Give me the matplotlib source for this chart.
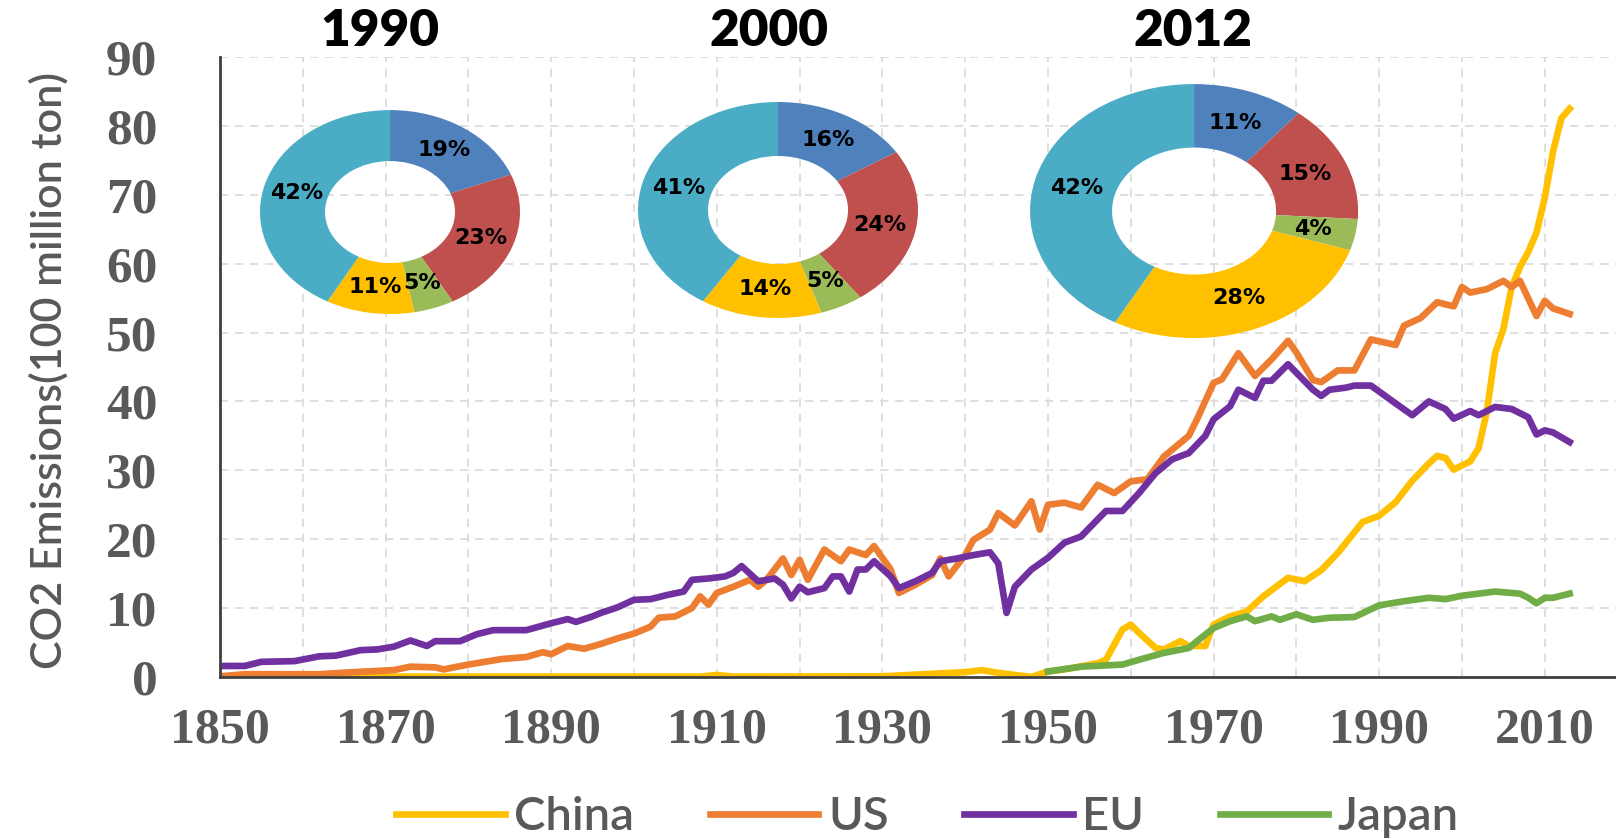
import matplotlib
matplotlib.use("Agg")
import matplotlib.pyplot as plt
import numpy as np

# CO2 emissions, 100 million ton
china_years = [1850, 1880, 1908, 1910, 1912, 1930, 1935, 1940, 1942, 1944, 1946, 1948,
               1950, 1952, 1956, 1957, 1959, 1960, 1961, 1963, 1964, 1966, 1967, 1969,
               1970, 1972, 1974, 1976, 1979, 1981, 1983, 1985, 1988, 1990, 1992, 1994,
               1996, 1997, 1998, 1999, 2001, 2002, 2003, 2004, 2005, 2006, 2007, 2008,
               2009, 2010, 2011, 2012, 2013]
china_vals = [0.05, 0.05, 0.05, 0.3, 0.05, 0.1, 0.4, 0.7, 1.0, 0.6, 0.3, 0.0,
              0.8, 1.1, 2.0, 2.5, 6.9, 7.6, 6.4, 4.2, 4.0, 5.2, 4.5, 4.5,
              7.6, 8.8, 9.5, 11.7, 14.4, 13.9, 15.5, 18.0, 22.5, 23.4, 25.4, 28.5,
              31.0, 32.1, 31.8, 30.1, 31.3, 33.2, 38.5, 47.0, 50.5, 56.6, 59.5, 61.7,
              64.5, 69.6, 76.3, 81.1, 82.5]

us_years = [1850, 1853, 1862, 1866, 1871, 1873, 1876, 1877, 1880, 1884, 1887, 1889,
            1890, 1892, 1894, 1896, 1898, 1900, 1902, 1903, 1905, 1907, 1908, 1909,
            1910, 1912, 1914, 1915, 1916, 1918, 1919, 1920, 1921, 1923, 1925, 1926,
            1928, 1929, 1931, 1932, 1934, 1936, 1937, 1938, 1940, 1941, 1943, 1944,
            1946, 1948, 1949, 1950, 1952, 1954, 1956, 1958, 1960, 1962, 1964, 1967,
            1968, 1970, 1971, 1973, 1975, 1977, 1979, 1980, 1982, 1983, 1985, 1987,
            1989, 1992, 1993, 1995, 1997, 1999, 2000, 2001, 2003, 2005, 2006, 2007,
            2009, 2010, 2011, 2013]
us_vals = [0.1, 0.4, 0.4, 0.7, 1.0, 1.5, 1.4, 1.1, 1.8, 2.6, 2.9, 3.6,
           3.3, 4.5, 4.1, 4.8, 5.6, 6.3, 7.3, 8.6, 8.8, 10.0, 11.7, 10.5,
           12.2, 13.1, 14.1, 13.1, 14.1, 17.2, 14.8, 17.0, 14.1, 18.5, 16.8, 18.5,
           17.7, 19.0, 15.6, 12.2, 13.4, 14.8, 17.2, 14.6, 17.7, 19.9, 21.4, 23.8,
           22.0, 25.5, 21.4, 25.0, 25.3, 24.6, 27.9, 26.7, 28.4, 28.7, 32.0, 35.0,
           37.4, 42.7, 43.2, 47.0, 43.7, 46.1, 48.8, 47.1, 43.1, 42.8, 44.5, 44.5,
           49.0, 48.2, 51.0, 52.1, 54.4, 53.8, 56.6, 55.8, 56.3, 57.5, 56.6, 57.5,
           52.4, 54.6, 53.5, 52.7]

eu_years = [1850, 1853, 1855, 1859, 1862, 1864, 1867, 1869, 1871, 1873, 1875, 1876,
            1879, 1881, 1883, 1887, 1890, 1892, 1893, 1895, 1896, 1898, 1900, 1902,
            1904, 1906, 1907, 1909, 1911, 1912, 1913, 1915, 1917, 1918, 1919, 1920,
            1921, 1923, 1924, 1925, 1926, 1927, 1928, 1929, 1931, 1932, 1934, 1936,
            1937, 1939, 1941, 1943, 1944, 1945, 1946, 1948, 1950, 1952, 1954, 1957,
            1959, 1961, 1963, 1965, 1967, 1969, 1970, 1972, 1973, 1975, 1976, 1977,
            1979, 1982, 1983, 1984, 1986, 1987, 1989, 1992, 1994, 1996, 1998, 1999,
            2001, 2002, 2004, 2006, 2008, 2009, 2010, 2011, 2013]
eu_vals = [1.6, 1.6, 2.2, 2.3, 3.0, 3.1, 3.9, 4.0, 4.4, 5.3, 4.5, 5.2,
           5.2, 6.2, 6.8, 6.8, 7.8, 8.4, 8.0, 8.8, 9.3, 10.1, 11.2, 11.3,
           11.9, 12.4, 14.1, 14.3, 14.6, 15.1, 16.1, 13.9, 14.3, 13.4, 11.4, 13.1,
           12.3, 12.9, 14.6, 14.6, 12.4, 15.6, 15.6, 16.8, 14.6, 12.9, 13.9, 15.1,
           16.8, 17.2, 17.7, 18.1, 16.5, 9.3, 13.1, 15.6, 17.3, 19.5, 20.4, 24.1,
           24.1, 26.7, 29.6, 31.6, 32.5, 35.0, 37.4, 39.3, 41.7, 40.5, 43.0, 43.0,
           45.4, 41.7, 40.8, 41.7, 42.0, 42.3, 42.3, 39.7, 38.0, 40.0, 38.9, 37.5,
           38.6, 38.0, 39.2, 38.9, 37.7, 35.2, 35.8, 35.5, 34.1]

japan_years = [1950, 1954, 1959, 1961, 1964, 1967, 1968, 1970, 1972, 1974, 1975, 1977,
               1978, 1980, 1982, 1984, 1987, 1990, 1993, 1996, 1998, 2000, 2004, 2007,
               2008, 2009, 2010, 2011, 2013]
japan_vals = [0.8, 1.5, 1.8, 2.5, 3.5, 4.2, 5.2, 7.1, 8.1, 8.8, 8.1, 8.8,
              8.3, 9.1, 8.3, 8.6, 8.7, 10.4, 11.0, 11.5, 11.3, 11.8, 12.4, 12.1,
              11.5, 10.7, 11.5, 11.5, 12.1]

# shares of world emissions: EU, US, Japan, China, rest of world
pie_years = ["1990", "2000", "2012"]
pie_shares = [[19, 23, 5, 11, 42],
              [16, 24, 5, 14, 41],
              [11, 15, 4, 28, 42]]
pie_colors = ["#4F81BD", "#C0504D", "#9BBB59", "#FFC000", "#4BACC6"]

gray = "#595959"

fig = plt.figure(figsize=(16.16, 8.39), dpi=100)
ax = fig.add_axes([0.1361, 0.1931, 0.8639, 0.739])

lw = 4.8
ax.plot(china_years, china_vals, color="#FFC000", lw=lw, label="China", solid_joinstyle="round")
ax.plot(us_years, us_vals, color="#ED7D31", lw=lw, label="US", solid_joinstyle="round")
ax.plot(eu_years, eu_vals, color="#7030A0", lw=lw, label="EU", solid_joinstyle="round")
ax.plot(japan_years, japan_vals, color="#70AD47", lw=lw, label="Japan", solid_joinstyle="round")

ax.set_xlim(1850, 2018.6)
ax.set_ylim(0, 90)
xt = np.arange(1850, 2011, 10)
ax.set_xticks(xt)
ax.set_xticklabels([str(y) if (y - 1850) % 20 == 0 else "" for y in xt])
ax.set_yticks(np.arange(0, 91, 10))
ax.grid(True, ls=(0, (5, 4)), color="#d9d9d9", lw=1.2)
ax.set_axisbelow(True)
for s in ["top", "right"]:
    ax.spines[s].set_visible(False)
ax.spines["left"].set_color("#404040")
ax.spines["bottom"].set_color("#404040")
ax.spines["left"].set_linewidth(2)
ax.spines["bottom"].set_linewidth(2)
ax.tick_params(length=0, colors=gray)
ax.tick_params(axis="x", pad=22)
ax.tick_params(axis="y", pad=45)
for lbl in ax.get_xticklabels():
    lbl.set_fontfamily("Liberation Serif")
    lbl.set_fontweight("bold")
    lbl.set_fontsize(36)
for lbl in ax.get_yticklabels():
    lbl.set_fontfamily("Liberation Serif")
    lbl.set_fontweight("bold")
    lbl.set_fontsize(37)

fig.text(0.030, 0.558, "CO2 Emissions(100 million ton)", rotation=90, ha="center", va="center",
         fontsize=31, color=gray, family="Lato", fontweight="semibold")

# donut charts for the three years
pie_boxes = [[0.1609, 0.6257, 0.1609, 0.2431],
             [0.3948, 0.6210, 0.1733, 0.2574],
             [0.6374, 0.5971, 0.2030, 0.3027]]
title_x = [0.235, 0.476, 0.738]
for yr, shares, box, tx in zip(pie_years, pie_shares, pie_boxes, title_x):
    pax = fig.add_axes(box)
    pax.pie(shares, colors=pie_colors, startangle=90, counterclock=False,
            autopct=lambda p: "%d%%" % round(p), pctdistance=0.74,
            wedgeprops=dict(width=0.5, linewidth=0),
            textprops=dict(fontsize=16, fontweight="bold", color="black", family="DejaVu Sans"))
    pax.set_aspect("auto")
    pax.set_xlim(-1, 1)
    pax.set_ylim(-1, 1)
    pax.axis("off")
    fig.text(tx, 0.963, yr, ha="center", va="center", fontsize=37, fontweight="heavy",
             family="Lato", color="black")

leg = fig.legend(*ax.get_legend_handles_labels(), loc="center", bbox_to_anchor=(0.574, 0.026),
                 ncol=4, frameon=False, handlelength=2.3, handletextpad=0.2, columnspacing=1.6,
                 prop=dict(family="Lato", size=34, weight="semibold"))
for t in leg.get_texts():
    t.set_color(gray)

fig.savefig("out.png", dpi=100)
